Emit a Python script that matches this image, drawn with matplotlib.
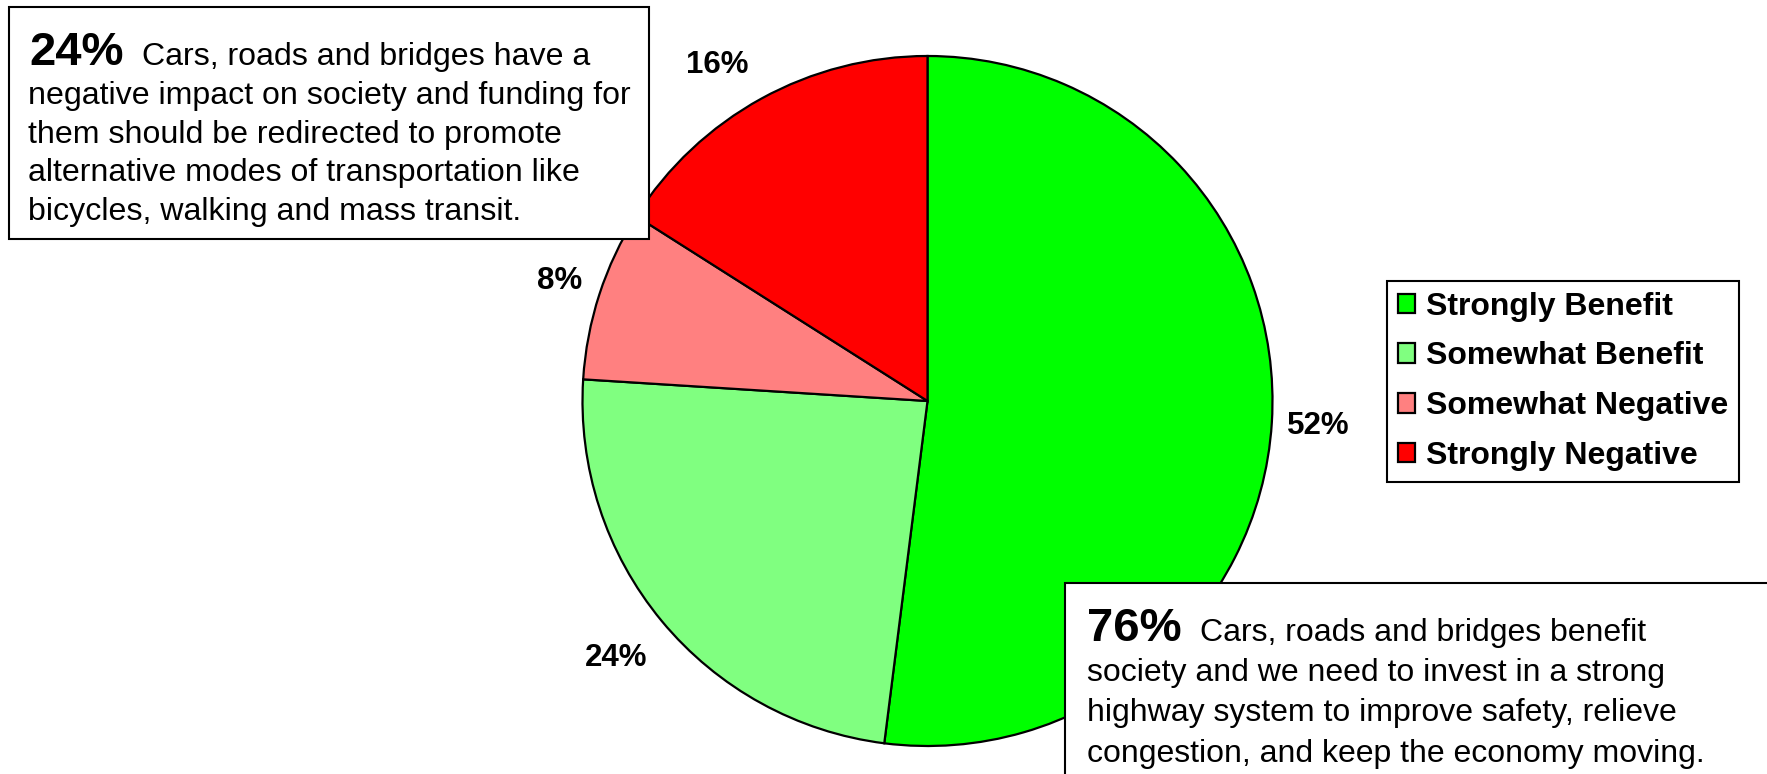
import matplotlib
matplotlib.use("Agg")
import matplotlib.pyplot as plt
from matplotlib.patches import Rectangle
import numpy as np

# ================== 데이터 ==================
labels = ["Strongly Benefit", "Somewhat Benefit", "Somewhat Negative", "Strongly Negative"]
values = [52, 24, 8, 16]
colors = ["#00ff00", "#80ff80", "#ff8080", "#ff0000"]
label_dist = [1.134, 1.17, 1.122, 1.148]  # 퍼센트 라벨의 반지름 배율 (조각별)
label_turn = [0, 0, 0, 3.2]               # 라벨 각도 보정 (도)

left_head = "24%"
left_lines = [
    "Cars, roads and bridges have a",
    "negative impact on society and funding for",
    "them should be redirected to promote",
    "alternative modes of transportation like",
    "bicycles, walking and mass transit.",
]
right_head = "76%"
right_lines = [
    "Cars, roads and bridges benefit",
    "society and we need to invest in a strong",
    "highway system to improve safety, relieve",
    "congestion, and keep the economy moving.",
]

# ================== 레이아웃 (픽셀, 위에서 아래로) ==================
W, H = 1767, 774
SANS = ["Liberation Sans", "DejaVu Sans"]
CX, CY, R = 927.5, 401, 345

def fy(y_px):
    return H - y_px

fig = plt.figure(figsize=(W / 100, H / 100), dpi=100, facecolor="white")
ax = fig.add_axes([0, 0, 1, 1])

wedges, _ = ax.pie(
    values, colors=colors, startangle=90, counterclock=False,
    center=(CX, fy(CY)), radius=R,
    wedgeprops=dict(edgecolor="black", linewidth=1.6),
)
ax.set_xlim(0, W)
ax.set_ylim(0, H)
ax.set_aspect("equal")
ax.axis("off")

# 퍼센트 라벨: 조각 중앙 각도 방향으로 배치
for w, v, d, t in zip(wedges, values, label_dist, label_turn):
    ang = np.deg2rad((w.theta1 + w.theta2) / 2 + t)
    ax.text(CX + d * R * np.cos(ang), fy(CY) + d * R * np.sin(ang), f"{v}%",
            ha="center", va="center", fontsize=22.5, fontweight="bold", family=SANS)

# ── 왼쪽 설명 박스 ──
ax.add_patch(Rectangle((9, fy(239)), 640, 232, facecolor="white",
                       edgecolor="black", linewidth=1.5, zorder=5))
ax.text(29, fy(65), left_head, fontsize=34, fontweight="bold", family=SANS,
        va="baseline", ha="left", zorder=6)
for i, line in enumerate(left_lines):
    x = 142 if i == 0 else 28
    ax.text(x, fy(65 + i * 38.8), line, fontsize=23.1, family=SANS,
            va="baseline", ha="left", zorder=6)

# ── 오른쪽 설명 박스 (그림 밖으로 잘림) ──
ax.add_patch(Rectangle((1065, fy(800)), 800, 217, facecolor="white",
                       edgecolor="black", linewidth=1.5, zorder=5))
ax.text(1087, fy(641), right_head, fontsize=34, fontweight="bold", family=SANS,
        va="baseline", ha="left", zorder=6)
for i, line in enumerate(right_lines):
    x = 1200 if i == 0 else 1087
    ax.text(x, fy(641 + i * 40.2), line, fontsize=23, family=SANS,
            va="baseline", ha="left", zorder=6)

# ── 범례 ──
leg = ax.legend(wedges, labels, loc="upper left",
                bbox_to_anchor=(1387 / W, 1 - 281 / H), bbox_transform=fig.transFigure,
                prop=dict(family=SANS, weight="bold", size=23),
                frameon=True, fancybox=False, framealpha=1, edgecolor="black",
                borderpad=0.33, labelspacing=0.62, handlelength=0.56, handleheight=0.56,
                handletextpad=0.34, borderaxespad=0)
leg.get_frame().set_linewidth(1.5)
leg.set_zorder(7)

fig.savefig("out.png", dpi=100, facecolor="white")
